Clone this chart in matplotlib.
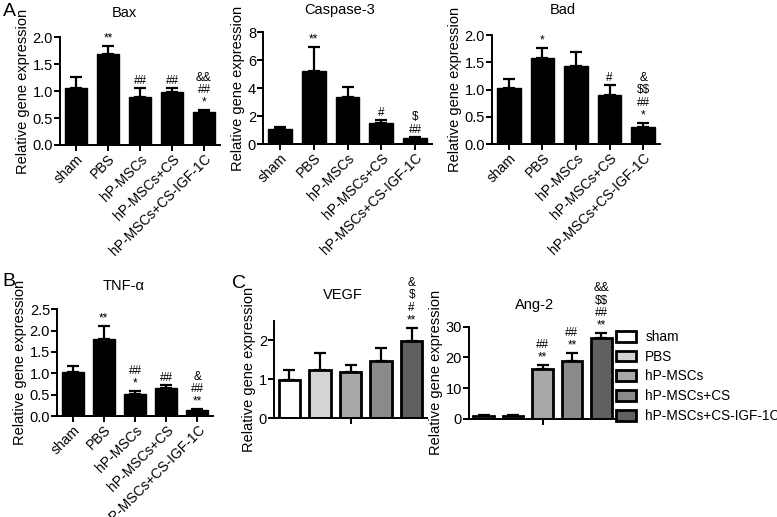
import matplotlib
matplotlib.use('Agg')
import matplotlib.pyplot as plt
from matplotlib.patches import Patch

plt.rcParams['font.family'] = ['Liberation Sans', 'DejaVu Sans']
plt.rcParams['font.size'] = 9.5
plt.rcParams['text.parse_math'] = False

groups = ['sham', 'PBS', 'hP-MSCs', 'hP-MSCs+CS', 'hP-MSCs+CS-IGF-1C']

bax = [1.06, 1.69, 0.90, 0.99, 0.62]
bax_err = [0.20, 0.15, 0.16, 0.06, 0.03]
bax_sig = ['', '**', '##', '##', '&&\n##\n*']

casp3 = [1.07, 5.22, 3.34, 1.53, 0.43]
casp3_err = [0.13, 1.75, 0.72, 0.19, 0.07]
casp3_sig = ['', '**', '', '#', '$\n##']

bad = [1.02, 1.57, 1.44, 0.90, 0.32]
bad_err = [0.17, 0.20, 0.24, 0.18, 0.07]
bad_sig = ['', '*', '', '#', '&\n$$\n##\n*']

tnf = [1.04, 1.80, 0.51, 0.65, 0.14]
tnf_err = [0.12, 0.32, 0.07, 0.07, 0.02]
tnf_sig = ['', '**', '##\n*', '##', '&\n##\n**']

vegf = [0.97, 1.24, 1.19, 1.47, 1.98]
vegf_err = [0.27, 0.43, 0.18, 0.33, 0.34]
vegf_sig = ['', '', '', '', '&\n$\n#\n**']

ang2 = [1.0, 1.1, 16.3, 18.9, 26.4]
ang2_err = [0.3, 0.3, 1.2, 2.5, 1.5]
ang2_sig = ['', '', '##\n**', '##\n**', '&&\n$$\n##\n**']

greys = ['white', '#d4d4d4', '#a8a8a8', '#8a8a8a', '#606060']

W, H = 777, 517
fig = plt.figure(figsize=(W / 100, H / 100), dpi=100)


def make_ax(x0, x1, ytop, ybot):
    return fig.add_axes([x0 / W, 1 - ybot / H, (x1 - x0) / W, (ybot - ytop) / H])


def draw(ax, vals, errs, sigs, title, tx, ty, ymax, yticks, colors, ticklabels, lw):
    x = list(range(len(vals)))
    ax.bar(x, vals, width=0.7, color=colors, edgecolor='black', linewidth=lw, zorder=2)
    ax.errorbar(x, vals, yerr=[[0] * len(errs), errs], fmt='none', ecolor='black',
                elinewidth=1.6, capsize=4, capthick=1.6, zorder=1)
    for xi, v, e, s in zip(x, vals, errs, sigs):
        if s:
            ax.annotate(s, (xi, v + e), xytext=(0, 1), textcoords='offset points',
                        ha='center', va='bottom', fontsize=8.5, linespacing=1.05,
                        annotation_clip=False)
    ax.set_xlim(-0.5, len(vals) - 0.5)
    ax.set_ylim(0, ymax)
    ax.set_yticks(yticks)
    ax.set_yticklabels([('%g' % t) if ymax > 3 else ('%.1f' % t) for t in yticks])
    for sp in ['top', 'right']:
        ax.spines[sp].set_visible(False)
    for sp in ['left', 'bottom']:
        ax.spines[sp].set_linewidth(1.4)
    ax.tick_params(width=1.4, length=4, labelsize=10.5, pad=1)
    if ticklabels:
        ax.set_xticks(x)
        ax.set_xticklabels(groups, rotation=45, ha='right', rotation_mode='anchor',
                           fontsize=10)
    else:
        ax.set_xticks([2])
        ax.set_xticklabels([])
    ax.set_ylabel('Relative gene expression', fontsize=10.5, labelpad=2)
    fig.text(tx / W, 1 - ty / H, title, fontsize=10.5, ha='center', va='center')


black = ['black'] * 5

ax1 = make_ax(60, 220, 37.3, 145)
draw(ax1, bax, bax_err, bax_sig, 'Bax', 124, 13, 2.0, [0, 0.5, 1.0, 1.5, 2.0], black, True, 1)

ax2 = make_ax(263, 432, 32.3, 144)
draw(ax2, casp3, casp3_err, casp3_sig, 'Caspase-3', 340, 10, 8, [0, 2, 4, 6, 8], black, True, 1)

ax3 = make_ax(492, 660, 35, 144)
draw(ax3, bad, bad_err, bad_sig, 'Bad', 563, 10, 2.0, [0, 0.5, 1.0, 1.5, 2.0], black, True, 1)

ax4 = make_ax(57, 213, 309.3, 416)
draw(ax4, tnf, tnf_err, tnf_sig, 'TNF-\u03b1', 124, 286, 2.5, [0, 0.5, 1.0, 1.5, 2.0, 2.5],
     black, True, 1)

ax5 = make_ax(274, 427, 320.7, 418.3)
draw(ax5, vegf, vegf_err, vegf_sig, 'VEGF', 343, 295, 2.5, [0, 1, 2], greys, False, 2)
ax5.set_yticklabels(['0', '1', '2'])

ax6 = make_ax(469, 616, 326.7, 419)
draw(ax6, ang2, ang2_err, ang2_sig, 'Ang-2', 535, 305, 30, [0, 10, 20, 30], greys, False, 2)

handles = [Patch(facecolor=c, edgecolor='black', linewidth=2) for c in greys]
fig.legend(handles, groups, loc='upper left', bbox_to_anchor=(616 / W, 1 - 330 / H),
           frameon=False, fontsize=9.8, handlelength=1.45, handleheight=0.85,
           handletextpad=0.7, labelspacing=0.42, borderaxespad=0, borderpad=0)

fig.text(3 / W, 1 - 11 / H, 'A', fontsize=14, va='center')
fig.text(2 / W, 1 - 281 / H, 'B', fontsize=14, va='center')
fig.text(232 / W, 1 - 283 / H, 'C', fontsize=14, va='center')

fig.savefig('out.png', dpi=100)
